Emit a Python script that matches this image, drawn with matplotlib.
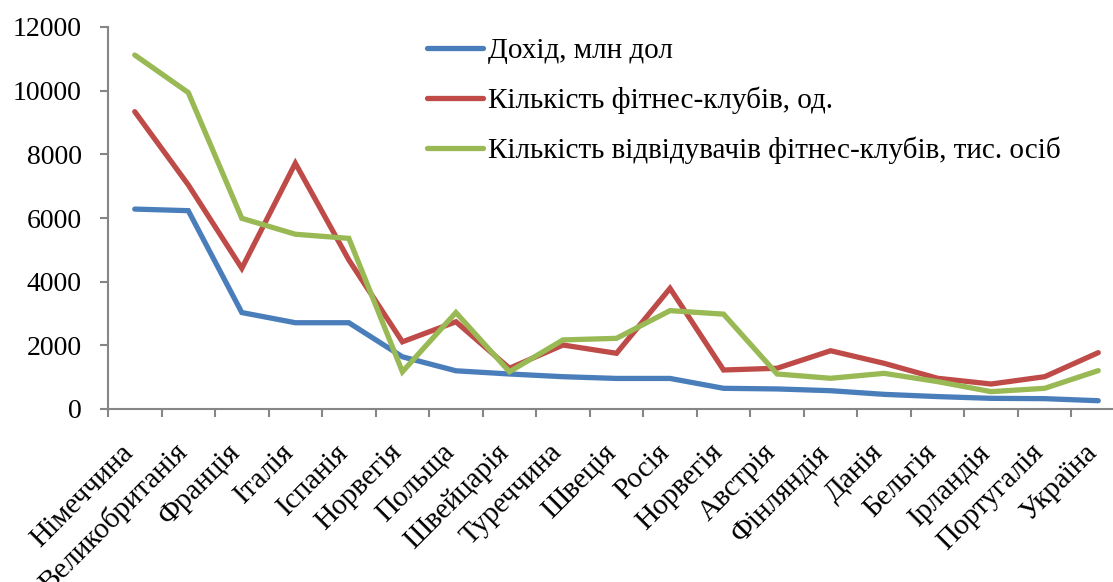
import matplotlib
matplotlib.use("Agg")
import matplotlib.pyplot as plt
import numpy as np

countries = ["Німеччина", "Великобританія", "Франція", "Італія", "Іспанія", "Норвегія",
             "Польща", "Швейцарія", "Туреччина", "Швеція", "Росія", "Норвегія",
             "Австрія", "Фінляндія", "Данія", "Бельгія", "Ірландія", "Португалія", "Україна"]
income = [6280, 6230, 3030, 2710, 2710, 1640, 1200, 1100, 1015, 960, 960, 650,
          630, 575, 460, 390, 335, 325, 260]
clubs = [9340, 7040, 4420, 7720, 4680, 2110, 2740, 1280, 2010, 1750, 3790, 1225,
         1280, 1830, 1435, 965, 785, 1015, 1770]
visitors = [11120, 9940, 5990, 5490, 5360, 1170, 3030, 1170, 2170, 2220, 3090, 2980,
            1100, 965, 1120, 860, 545, 650, 1205]
labels = ["Дохід, млн дол", "Кількість фітнес-клубів, од.",
          "Кількість відвідувачів фітнес-клубів, тис. осіб"]
yticks = [0, 2000, 4000, 6000, 8000, 10000, 12000]

plt.rcParams['font.family'] = ['Liberation Serif', 'DejaVu Serif']

fig = plt.figure(figsize=(11.13, 5.82), dpi=100)
ax = fig.add_axes([108/1113, 1-409/582, (1125-108)/1113, (409-27)/582])

x = np.arange(len(countries))
colors = ["#4A7EBB", "#BE4B48", "#98B954"]
for data, lab, c in zip([income, clubs, visitors], labels, colors):
    ax.plot(x, data, color=c, lw=3.8, label=lab, solid_capstyle='round', solid_joinstyle='miter')

ax.set_xlim(-0.5, len(countries) - 0.5)
ax.set_ylim(0, 12000)
ax.set_yticks(yticks)
ax.set_yticklabels([str(v) for v in yticks], fontsize=20)
ax.set_xticks(x)
ax.set_xticklabels(countries, fontsize=21, rotation=45, ha='right', va='baseline', rotation_mode='anchor')
ax.set_xticks(np.arange(-0.5, len(countries), 1), minor=True)
ax.tick_params(axis='x', which='major', length=0, pad=32)
ax.tick_params(axis='x', which='minor', length=6, width=1.5, color='#868686', direction='out')
ax.tick_params(axis='y', length=6, width=1.5, color='#868686', direction='out', pad=13)
for s in ['top', 'right']:
    ax.spines[s].set_visible(False)
for s in ['left', 'bottom']:
    ax.spines[s].set_color('#868686')
    ax.spines[s].set_linewidth(1.5)

leg = ax.legend(loc='upper left', bbox_to_anchor=(427/1113, 1-38/582), bbox_transform=fig.transFigure,
                frameon=False, fontsize=21, handlelength=1.92, handletextpad=0.17, labelspacing=0.77,
                borderaxespad=0, borderpad=0)

fig.savefig("out.png", dpi=100)
